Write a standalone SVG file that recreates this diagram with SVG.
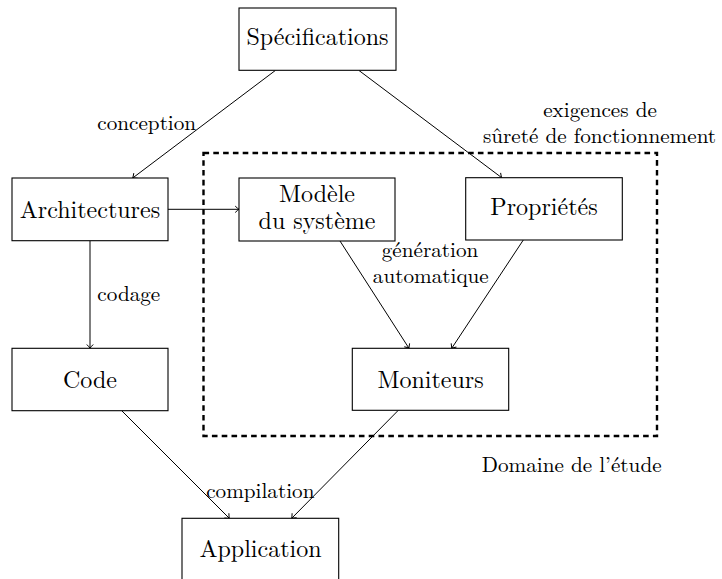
<svg xmlns="http://www.w3.org/2000/svg" width="722" height="579" viewBox="0 0 722 579">
<defs>
<marker id="arr" markerUnits="userSpaceOnUse" markerWidth="12" markerHeight="12" viewBox="-6 -6 12 12" refX="0" refY="0" orient="auto">
<path d="M -3.8,-3.2 Q -1.2,-0.7 0,0 Q -1.2,0.7 -3.8,3.2" fill="none" stroke="#000" stroke-width="1"/>
</marker>
<style>
.box{fill:#fff;stroke:#000;stroke-width:1.1}
.t{font-size:24px;fill:#000;text-anchor:middle}
.l{font-size:21.2px;fill:#000;text-anchor:middle}
.c{fill:none;stroke:#000;stroke-width:1;marker-end:url(#arr)}
</style>
</defs>
<rect width="722" height="579" fill="#fff"/>
<rect id="domaine" x="203.5" y="153" width="453.5" height="283" fill="none" stroke="#000" stroke-width="2.4" stroke-dasharray="5.6,4.2"/>
<g id="connectors">
<line class="c" x1="275.3" y1="70.5" x2="132.7" y2="178"/>
<line class="c" x1="359" y1="70.5" x2="501.7" y2="177.7"/>
<line class="c" x1="168" y1="209.3" x2="239" y2="209.3"/>
<line class="c" x1="90" y1="241" x2="90" y2="348.3"/>
<line class="c" x1="340" y1="241" x2="409" y2="348.3"/>
<line class="c" x1="523.3" y1="240" x2="451.7" y2="348.3"/>
<line class="c" x1="121.7" y1="410.7" x2="229.3" y2="518.3"/>
<line class="c" x1="398.3" y1="410.3" x2="291.7" y2="518.3"/>
</g>
<g id="specifications"><rect class="box" x="239" y="8" width="157" height="62.3"/><text class="t" font-family="Latin Modern Roman, Liberation Serif, serif" x="317.5" y="45">Spécifications</text></g>
<g id="architectures"><rect class="box" x="12" y="178" width="156" height="62.7"/><text class="t" font-family="Latin Modern Roman, Liberation Serif, serif" x="90" y="218.3">Architectures</text></g>
<g id="modele"><rect class="box" x="239" y="178" width="156" height="63"/><text class="t" font-family="Latin Modern Roman, Liberation Serif, serif" x="317" y="201.7">Modèle</text><text class="t" font-family="Latin Modern Roman, Liberation Serif, serif" x="317" y="229.3">du système</text></g>
<g id="proprietes"><rect class="box" x="465.7" y="177.7" width="156.6" height="62.3"/><text class="t" font-family="Latin Modern Roman, Liberation Serif, serif" x="544" y="215">Propriétés</text></g>
<g id="code"><rect class="box" x="12" y="348.3" width="156" height="62.4"/><text class="t" font-family="Latin Modern Roman, Liberation Serif, serif" x="90" y="388.3">Code</text></g>
<g id="moniteurs"><rect class="box" x="352.3" y="348.3" width="156.4" height="62"/><text class="t" font-family="Latin Modern Roman, Liberation Serif, serif" x="430.5" y="388.3">Moniteurs</text></g>
<g id="application"><rect class="box" x="182" y="518.3" width="156.7" height="70"/><text class="t" font-family="Latin Modern Roman, Liberation Serif, serif" x="260.5" y="556.7">Application</text></g>
<g id="labels">
<text class="l" font-family="Latin Modern Roman, Liberation Serif, serif" x="146.7" y="130">conception</text>
<text class="l" font-family="Latin Modern Roman, Liberation Serif, serif" x="97.3" y="300.7" style="text-anchor:start">codage</text>
<text class="l" font-family="Latin Modern Roman, Liberation Serif, serif" x="260.3" y="498.3">compilation</text>
<text class="l" font-family="Latin Modern Roman, Liberation Serif, serif" x="600" y="117.3">exigences de</text>
<text class="l" font-family="Latin Modern Roman, Liberation Serif, serif" x="599.5" y="143.3">sûreté de fonctionnement</text>
<text class="l" font-family="Latin Modern Roman, Liberation Serif, serif" x="430" y="256.7">génération</text>
<text class="l" font-family="Latin Modern Roman, Liberation Serif, serif" x="430.8" y="283.3">automatique</text>
<text class="l" font-family="Latin Modern Roman, Liberation Serif, serif" x="571.7" y="471.7">Domaine de l’étude</text>
</g>
</svg>
